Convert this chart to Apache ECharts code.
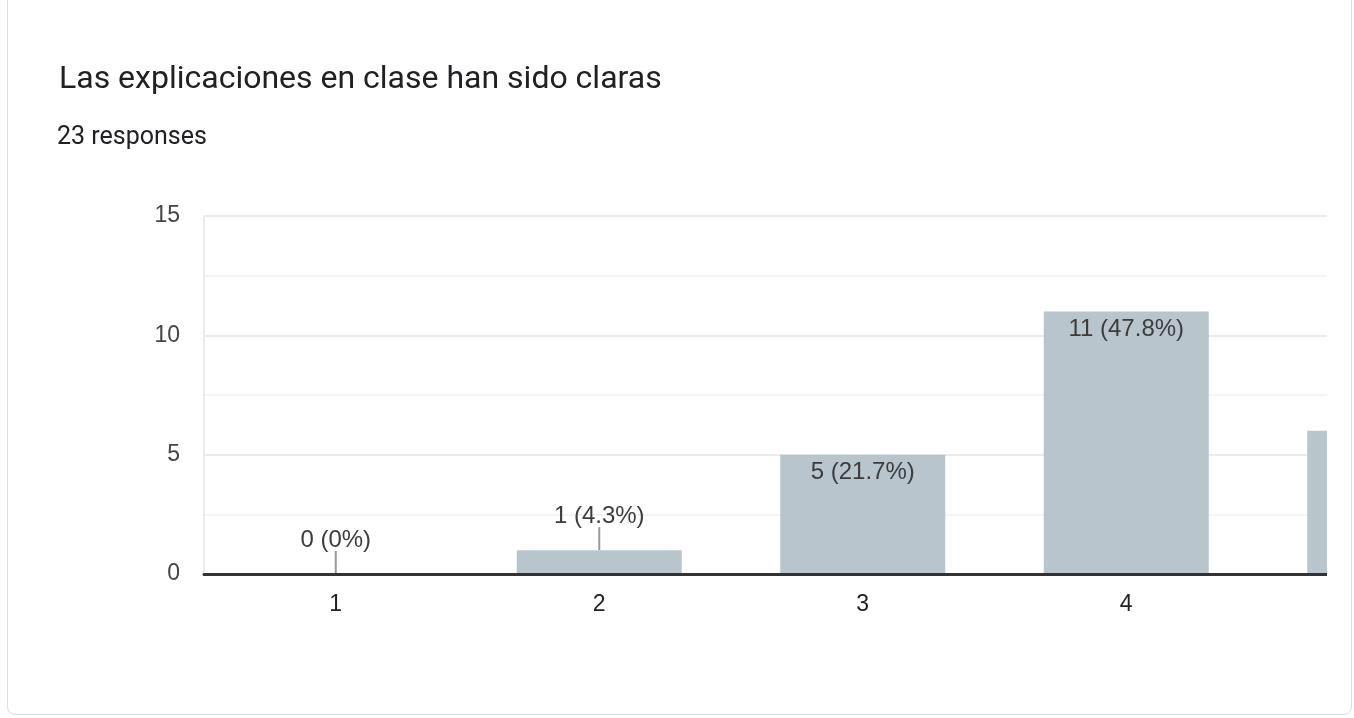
<!DOCTYPE html>
<html>
<head>
<meta charset="utf-8">
<title>Las explicaciones en clase han sido claras</title>
<script src="https://cdn.jsdelivr.net/npm/echarts@6/dist/echarts.min.js"></script>
<style>
  html, body { margin: 0; padding: 0; background: #fff; overflow: hidden; }
  #card {
    position: absolute; left: 7px; top: -20px; width: 1345px; height: 735px;
    border: 1px solid #dadce0; border-radius: 8px; box-sizing: border-box;
  }
  #clip { position: absolute; left: 0; top: 0; width: 1327px; height: 718px; overflow: hidden; }
  #main { width: 1700px; height: 718px; }
</style>
</head>
<body>
<div id="card"></div>
<div id="clip"><div id="main"></div></div>
<script>
// datos
const questionTitle = 'Las explicaciones en clase han sido claras'
const categories = ['1', '2', '3', '4', '5']
const counts = [0, 1, 5, 11, 6]
const yTicks = [0, 5, 10, 15]

const total = counts.reduce((a, b) => a + b, 0)
const pct = v => Number((v / total * 100).toFixed(1)) + '%'
const labelText = v => v + ' (' + pct(v) + ')'
const fitsInside = v => v >= 2 // barras bajas: etiqueta arriba con palito

let chart = echarts.init(document.getElementById('main'))

chart.setOption({
  animation: false,
  title: [
    {
      text: questionTitle, left: 54, top: 59,
      textStyle: { fontFamily: 'Roboto', fontSize: 32, fontWeight: 'normal', color: '#202124' }
    },
    {
      text: total + ' responses', left: 52, top: 120,
      textStyle: { fontFamily: 'Roboto', fontSize: 25, fontWeight: 'normal', color: '#202124' }
    }
  ],
  grid: { left: 204, top: 216, height: 358, width: 1317.5 },
  xAxis: {
    type: 'category',
    data: categories,
    axisLine: { lineStyle: { color: '#333', width: 3 } },
    axisTick: { show: false },
    axisLabel: { margin: 19, fontFamily: 'Liberation Sans', fontSize: 23, color: '#222' },
    z: 5
  },
  yAxis: {
    type: 'value',
    min: yTicks[0], max: yTicks[yTicks.length - 1], interval: 5,
    axisLine: { show: true, lineStyle: { color: '#ebebeb', width: 2 } },
    axisTick: { show: false },
    axisLabel: { margin: 24, fontFamily: 'Liberation Sans', fontSize: 23, color: '#444' },
    splitLine: { lineStyle: { color: '#ebebeb', width: 2 } },
    minorTick: { show: false, splitNumber: 2 },
    minorSplitLine: { show: true, lineStyle: { color: '#f4f4f4', width: 2 } }
  },
  series: [
    {
      type: 'bar',
      barWidth: 165,
      itemStyle: { color: '#b8c5cd' },
      data: counts.map(v => ({
        value: v,
        label: fitsInside(v)
          ? { position: 'insideTop', distance: 6 }
          : { position: 'top', distance: 22 }
      })),
      label: {
        show: true,
        formatter: p => labelText(p.value),
        fontFamily: 'Liberation Sans', fontSize: 24, color: '#3c3c3c'
      },
      z: 3
    },
    {
      // palito gris que une la etiqueta con barras bajas
      type: 'custom',
      silent: true,
      data: counts.map((v, i) => [i, v]).filter(d => !fitsInside(d[1])),
      renderItem: (params, api) => {
        const p = api.coord([api.value(0), api.value(1)])
        return {
          type: 'line',
          shape: { x1: p[0], y1: p[1], x2: p[0], y2: p[1] - 23 },
          style: { stroke: '#999', lineWidth: 2 }
        }
      },
      z: 4
    }
  ]
})
</script>
</body>
</html>
